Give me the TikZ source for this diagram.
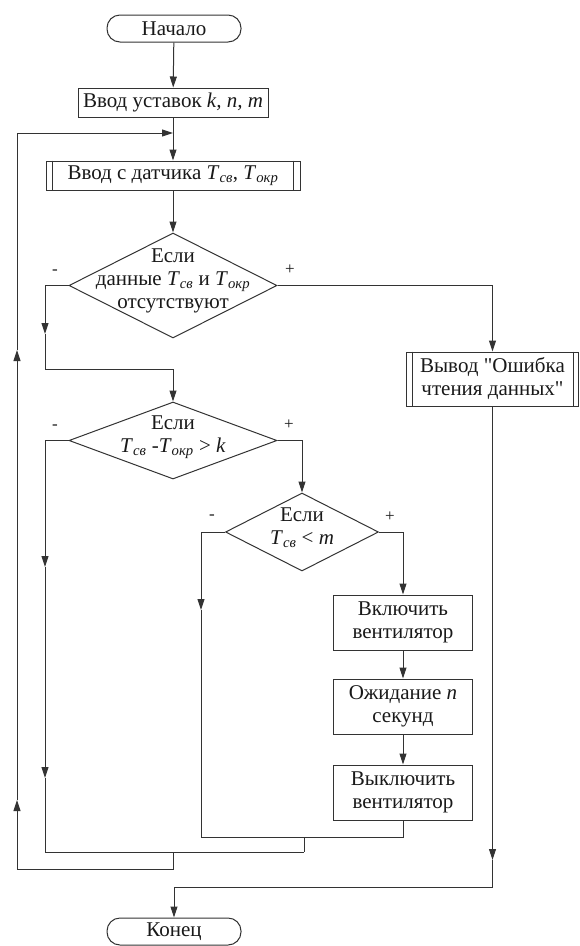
\documentclass[tikz,border=0pt]{standalone}
\usepackage{fontspec}
\setmainfont{LiberationSerif}[Extension=.ttf, UprightFont=*-Regular, ItalicFont=*-Italic, BoldFont=*-Bold, BoldItalicFont=*-BoldItalic]
\newfontfamily\diagfont{LiberationSerif}[Extension=.ttf, UprightFont=*-Regular, ItalicFont=*-Italic, BoldFont=*-Bold, BoldItalicFont=*-BoldItalic]
\usetikzlibrary{arrows.meta,shapes.geometric}
\colorlet{ink}{black!80}
\colorlet{tink}{black!90}
\newcommand{\Tsv}{\textit{T}\textsubscript{\textit{св}}}
\newcommand{\Tokr}{\textit{T}\textsubscript{\textit{окр}}}
\newcommand{\sq}{\symbol{34}}
\begin{document}
\begin{tikzpicture}[x=1pt,y=-1pt,
  every node/.style={font=\diagfont\fontsize{21}{23}\selectfont, text=tink},
  ln/.style={draw=ink, line width=1pt},
  arr/.style={ln, -{Triangle[length=11pt,width=7pt]}},
  term/.style={ln, rectangle, rounded corners=13pt, minimum width=134pt, minimum height=27pt, inner sep=0pt},
  proc/.style={ln, rectangle, inner sep=0pt, align=center},
  dia/.style={ln, diamond, inner sep=0pt},
  dtext/.style={align=center, inner sep=0pt},
  sign/.style={font=\diagfont\fontsize{17}{17}\selectfont, inner sep=0pt}
]
\fill[white] (0,0) rectangle (579,946);
\useasboundingbox (0,0) rectangle (579,946);

% nodes
\node[term] (start) at (174,28.5) {Начало};
\node[proc, minimum width=190pt, minimum height=29pt] (b1) at (173,102.5) {Ввод уставок \textit{k, n, m}};
\node[proc, minimum width=254pt, minimum height=29pt] (b2) at (173,175.5) {Ввод с датчика \Tsv, \Tokr};
\draw[ln] ([xshift=7pt]b2.north west) -- ([xshift=7pt]b2.south west);
\draw[ln] ([xshift=-7pt]b2.north east) -- ([xshift=-7pt]b2.south east);

\node[dia, minimum width=208pt, minimum height=105pt,
  label={[dtext, name=d1t, yshift=5pt]center:Если\\данные \Tsv{} и \Tokr\\отсутствуют}] (d1) at (173,285.5) {};
\node[dia, minimum width=208pt, minimum height=77pt,
  label={[dtext, name=d2t, yshift=3pt]center:Если\\\Tsv{} -\Tokr{} > \textit{k}}] (d2) at (173,440.5) {};
\node[dia, minimum width=153pt, minimum height=78pt,
  label={[dtext, name=d3t, yshift=4pt]center:Если\\\Tsv{} < \textit{m}}] (d3) at (302,532) {};

\node[proc, minimum width=172pt, minimum height=54pt] (err) at (492.5,379) {Вывод \sq Ошибка\\чтения данных\sq};
\draw[ln] ([xshift=6pt]err.north west) -- ([xshift=6pt]err.south west);
\draw[ln] ([xshift=-6pt]err.north east) -- ([xshift=-6pt]err.south east);

\node[proc, minimum width=139pt, minimum height=55pt] (on) at (403,622.5) {Включить\\вентилятор};
\node[proc, minimum width=139pt, minimum height=55pt] (wait) at (403,706.5) {Ожидание \textit{n}\\секунд};
\node[proc, minimum width=139pt, minimum height=55pt] (off) at (403,792.5) {Выключить\\вентилятор};
\node[term] (end) at (174,931.5) {Конец};

% signs
\node[sign] (s1m) at (55,272) {-};
\node[sign] (s1p) at (290,270) {+};
\node[sign] (s2m) at (55,427) {-};
\node[sign] (s2p) at (289,425) {+};
\node[sign] (s3m) at (212,517) {-};
\node[sign] (s3p) at (390,517) {+};

% coordinates
\coordinate (j0) at (173,133);
\coordinate (a1) at (45,334);
\coordinate (l2) at (45,369);
\coordinate (a2) at (492.5,860);
\coordinate (r1) at (492.5,887);
\coordinate (a3) at (45,567);
\coordinate (a4) at (45,778);
\coordinate (m5) at (45,852);
\coordinate (m4) at (304,852);
\coordinate (a5) at (201,610);
\coordinate (m2) at (201,837);
\coordinate (m3) at (304,837);
\coordinate (m6) at (173,852);
\coordinate (m7) at (173,869);
\coordinate (m8) at (17,869);
\coordinate (a6) at (17,800);
\coordinate (a7) at (17,350);
\coordinate (m9) at (17,133);

% connectors
\draw[arr] (start) -- (b1);
\draw[arr] (b1) -- (b2);
\draw[arr] (b2) -- (d1);
\draw[arr] (d1.west) -| (a1);
\draw[arr] (a1) -- (l2) -| (d2.north);
\draw[arr] (d1.east) -| (err.north);
\draw[arr] (err.south) -- (a2);
\draw[arr] (a2) -- (r1) -| (end.north);
\draw[arr] (d2.east) -| (d3.north);
\draw[arr] (d2.west) -| (a3);
\draw[arr] (a3) -- (a4);
\draw[ln] (a4) -- (m5) -- (m4);
\draw[arr] (d3.east) -| (on.north);
\draw[arr] (on) -- (wait);
\draw[arr] (wait) -- (off);
\draw[arr] (d3.west) -| (a5);
\draw[ln] (a5) -- (m2) -| (off.south);
\draw[ln] (m3) -- (m4);
\draw[ln] (m6) -- (m7) -- (m8);
\draw[arr] (m8) -- (a6);
\draw[arr] (a6) -- (a7);
\draw[arr] (a7) -- (m9) -- (j0);
\end{tikzpicture}
\end{document}
